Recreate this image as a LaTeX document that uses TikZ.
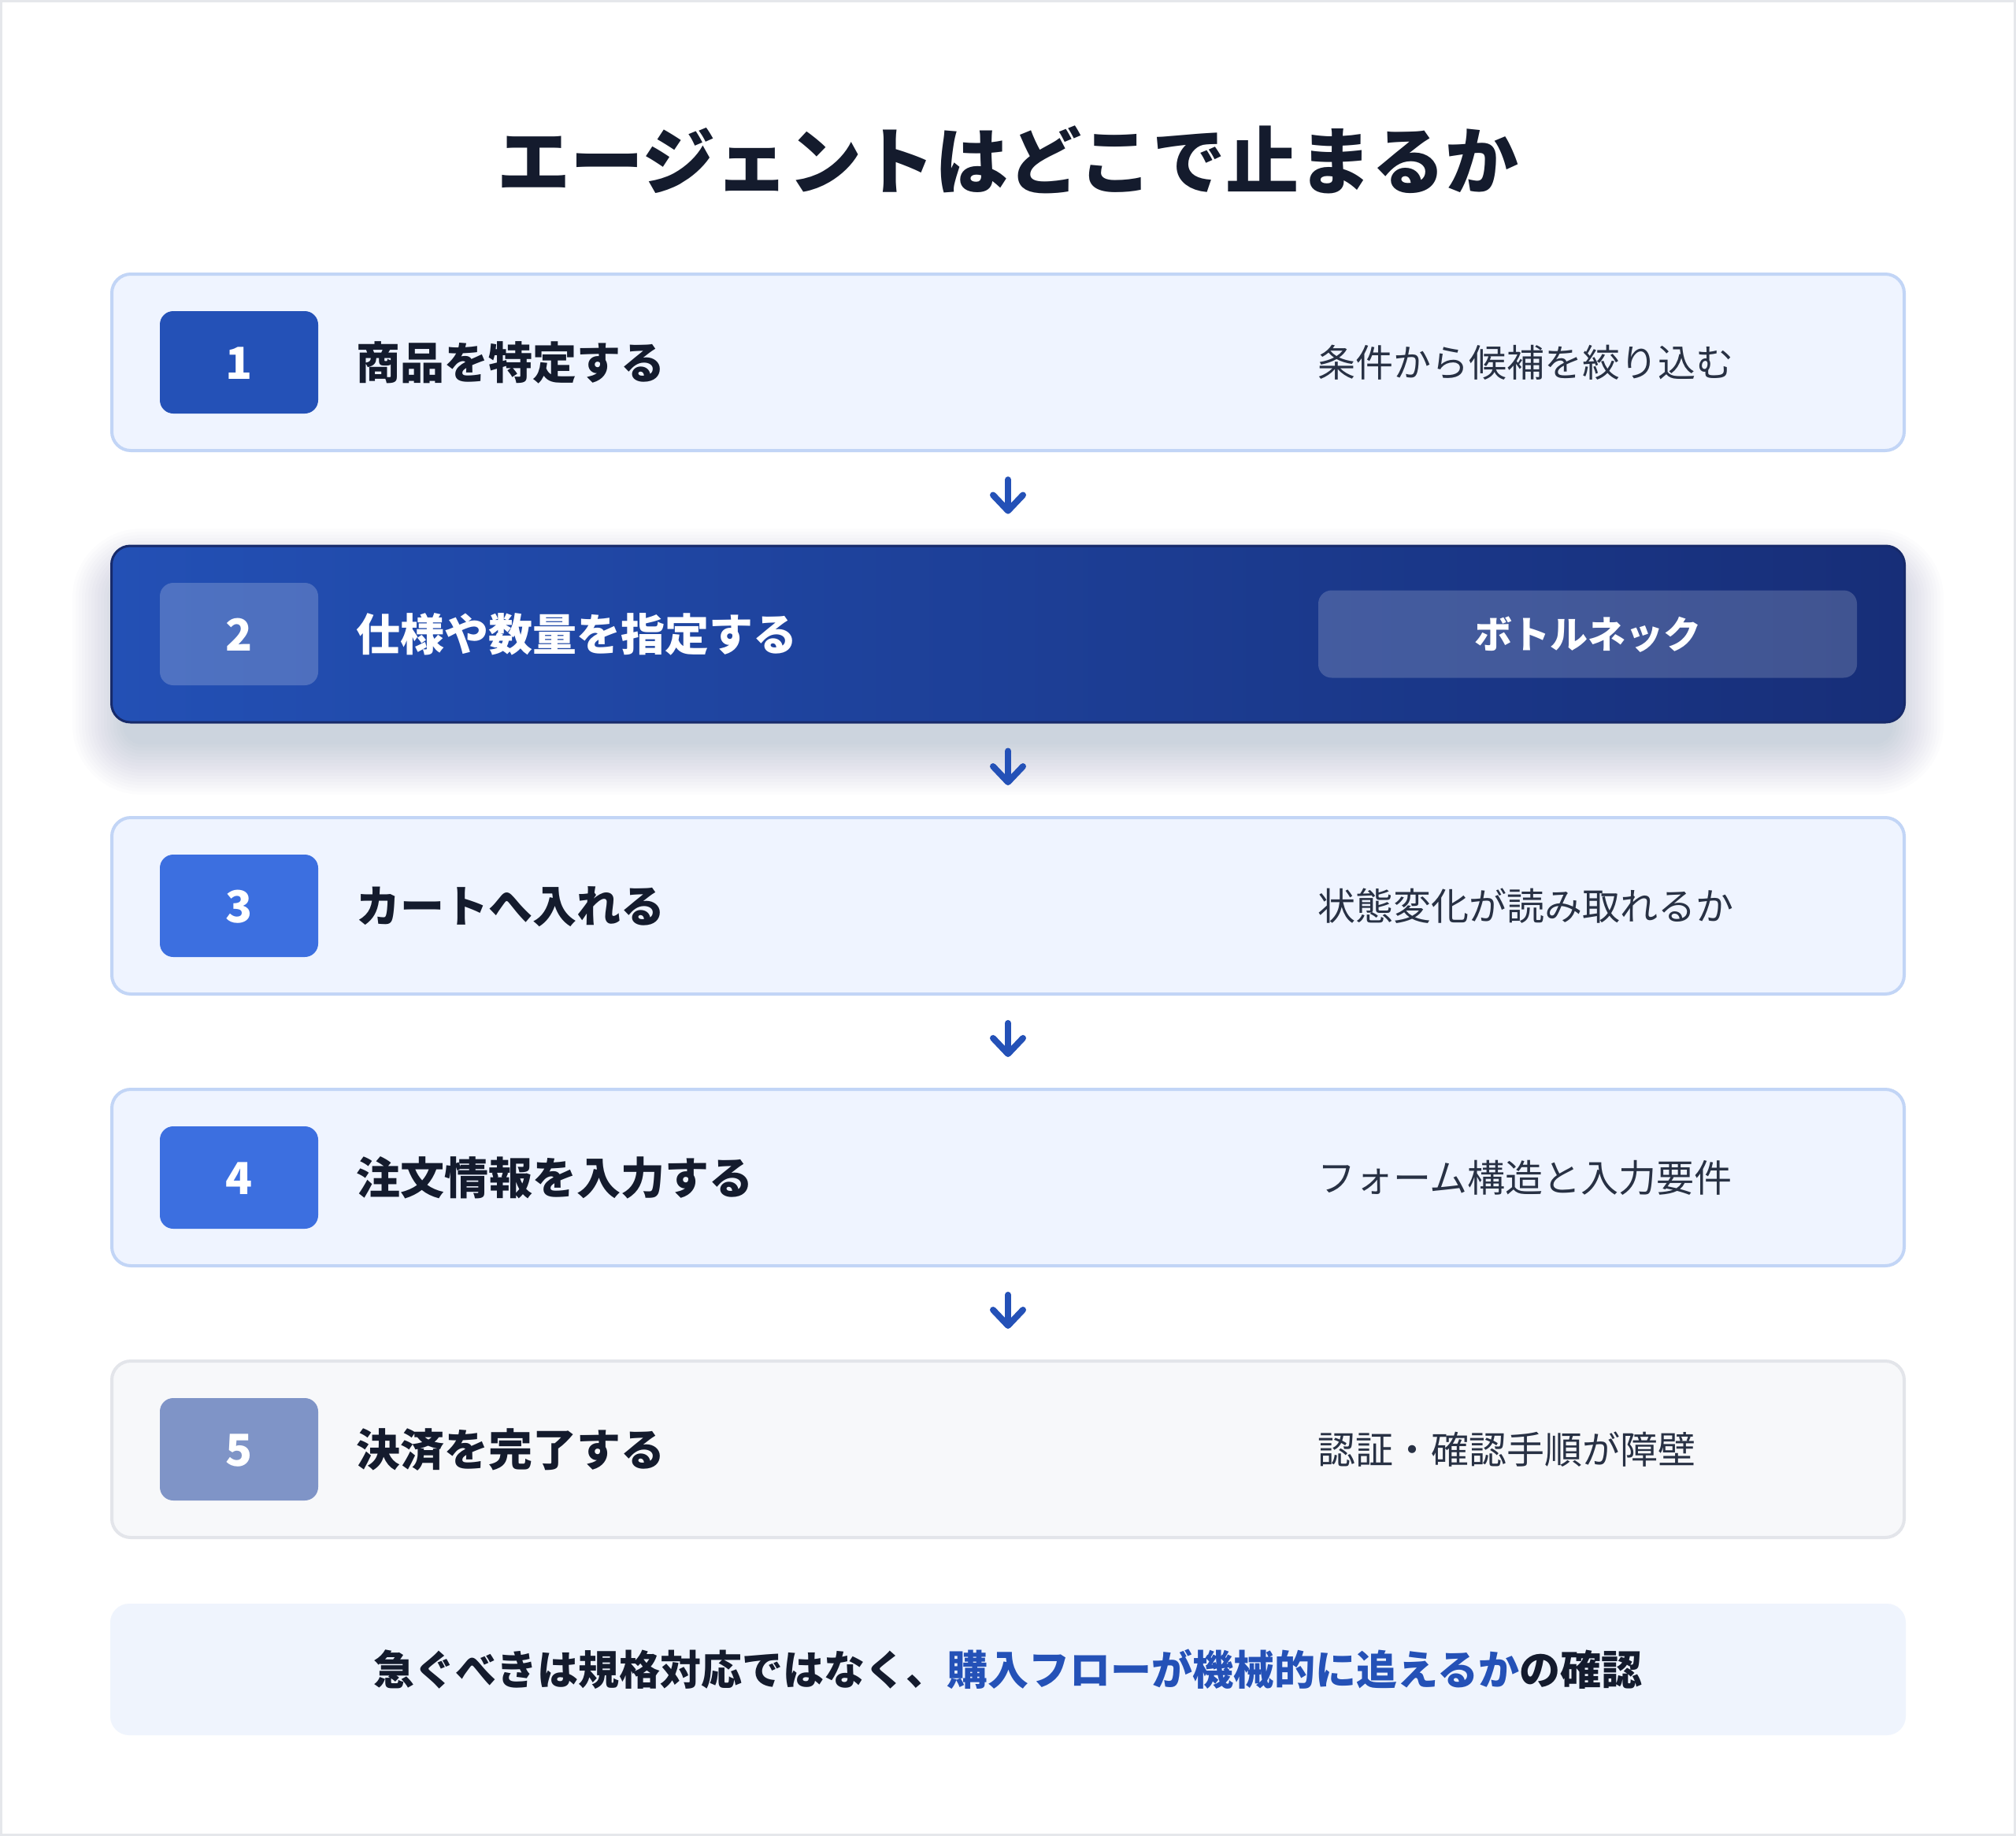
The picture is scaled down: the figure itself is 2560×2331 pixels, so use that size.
\documentclass[tikz,border=0pt]{standalone}
\usepackage{fontspec}
\setmainfont{Noto Sans CJK JP}[BoldFont=* Bold]
\newfontfamily\heavy{Noto Sans CJK JP Black}
\usetikzlibrary{arrows.meta}
\definecolor{ink}{HTML}{141B2D}
\definecolor{subink}{HTML}{283144}
\definecolor{cardfill}{HTML}{EFF4FF}
\definecolor{cardline}{HTML}{C2D5F6}
\definecolor{grayfill}{HTML}{F7F8FA}
\definecolor{grayline}{HTML}{E3E5EA}
\definecolor{nbone}{HTML}{2451B7}
\definecolor{nbthree}{HTML}{3C6FE0}
\definecolor{nbfive}{HTML}{7F94C7}
\definecolor{hotleft}{HTML}{2350B5}
\definecolor{hotright}{HTML}{172E78}
\definecolor{hotline}{HTML}{172A6A}
\definecolor{accent}{HTML}{2451B7}
\definecolor{notefill}{HTML}{EFF4FD}
\definecolor{frameline}{HTML}{E5E7EB}
\definecolor{shadowcol}{HTML}{1E3A8A}
\tikzset{
  card/.style={draw=cardline, fill=cardfill, line width=4pt, rounded corners=24pt,
    minimum width=2276pt, minimum height=224pt, inner sep=0pt},
  graycard/.style={card, draw=grayline, fill=grayfill},
  hotcard/.style={card, draw=hotline, line width=3pt, left color=hotleft, right color=hotright,
    minimum width=2277pt, minimum height=224pt},
  numbox/.style={rounded corners=17pt, minimum width=201pt, minimum height=130pt, inner sep=0pt,
    text=white, font=\heavy\fontsize{56pt}{56pt}\selectfont, text height=46.5pt, text depth=3.9pt},
  lbl/.style={anchor=west, inner sep=0pt, text=ink, font=\heavy\fontsize{56pt}{56pt}\selectfont,
    text height=46.5pt, text depth=3.9pt},
  rtxt/.style={anchor=west, inner sep=0pt, text=subink, font=\fontsize{48pt}{48pt}\selectfont,
    text height=40pt, text depth=3.4pt},
  badge/.style={rounded corners=17pt, minimum width=684pt, minimum height=111pt, inner sep=0pt,
    fill=white, fill opacity=0.18, text opacity=1, text=white,
    font=\heavy\fontsize{48pt}{48pt}\selectfont, text height=40pt, text depth=3.4pt},
  flow/.style={draw=accent, line width=8pt, line cap=round,
    -{Straight Barb[length=20pt,width=38pt,round]}, shorten <=35pt, shorten >=39pt},
  note/.style={fill=notefill, rounded corners=24pt, minimum width=2280pt, minimum height=167pt,
    inner sep=0pt, text=ink, font=\heavy\fontsize{52pt}{52pt}\selectfont,
    text height=43pt, text depth=3.6pt},
  titlestyle/.style={inner sep=0pt, text=ink, font=\heavy\fontsize{93pt}{93pt}\selectfont,
    text height=77pt, text depth=6.5pt},
}
\begin{document}
\begin{tikzpicture}[x=1pt,y=-1pt]
\useasboundingbox (0,0) rectangle (2560,2331);
\fill[white] (0,0) rectangle (2560,2331);
\draw[frameline, line width=3pt] (1.5,1.5) rectangle (2558.5,2329.5);

\node[titlestyle] (title) at (1280,204) {エージェントはどこで止まるか};

% shadow under highlighted card
\foreach \e in {0,4,...,64} {
  \pgfmathsetmacro{\rr}{24+\e}
  \fill[shadowcol, opacity=0.013, rounded corners=\rr pt]
    (156-\e,735-\e) rectangle (2404+\e,945+\e);
}

\node[card] (c1) at (1280,460) {};
\node[hotcard] (c2) at (1280,805) {};
\node[card] (c3) at (1280,1150) {};
\node[card] (c4) at (1280,1495) {};
\node[graycard] (c5) at (1280,1840) {};

\node[numbox, fill=nbone] (n1) at (303.5,460) {1};
\node[numbox, fill=white, fill opacity=0.2, text opacity=1] (n2) at (303.5,805) {2};
\node[numbox, fill=nbthree] (n3) at (303.5,1150) {3};
\node[numbox, fill=nbthree] (n4) at (303.5,1495) {4};
\node[numbox, fill=nbfive] (n5) at (303.5,1840) {5};

\node[lbl] (l1) at (452,460) {商品を特定する};
\node[lbl, text=white] (l2) at (452,805) {仕様や数量を指定する};
\node[lbl] (l3) at (452,1150) {カートへ入れる};
\node[lbl] (l4) at (452,1495) {注文情報を入力する};
\node[lbl] (l5) at (452,1840) {決済を完了する};

\node[rtxt] (r1) at (1673,460) {条件から候補を絞り込む};
\node[badge] (b2) at (2016,805) {ボトルネック};
\node[rtxt] (r3) at (1673,1150) {状態変化が読み取れるか};
\node[rtxt] (r4) at (1673,1495) {フォーム構造と入力要件};
\node[rtxt] (r5) at (1673,1840) {認証・確認手順が障壁};

\draw[flow] (c1.south) -- (c2.north);
\draw[flow] (c2.south) -- (c3.north);
\draw[flow] (c3.south) -- (c4.north);
\draw[flow] (c4.south) -- (c5.north);

\node[note] (nt) at (1280,2119.5) {急ぐべきは規格対応ではなく、\textcolor{accent}{購入フローが機械的に追えるか}の確認};
\end{tikzpicture}
\end{document}
